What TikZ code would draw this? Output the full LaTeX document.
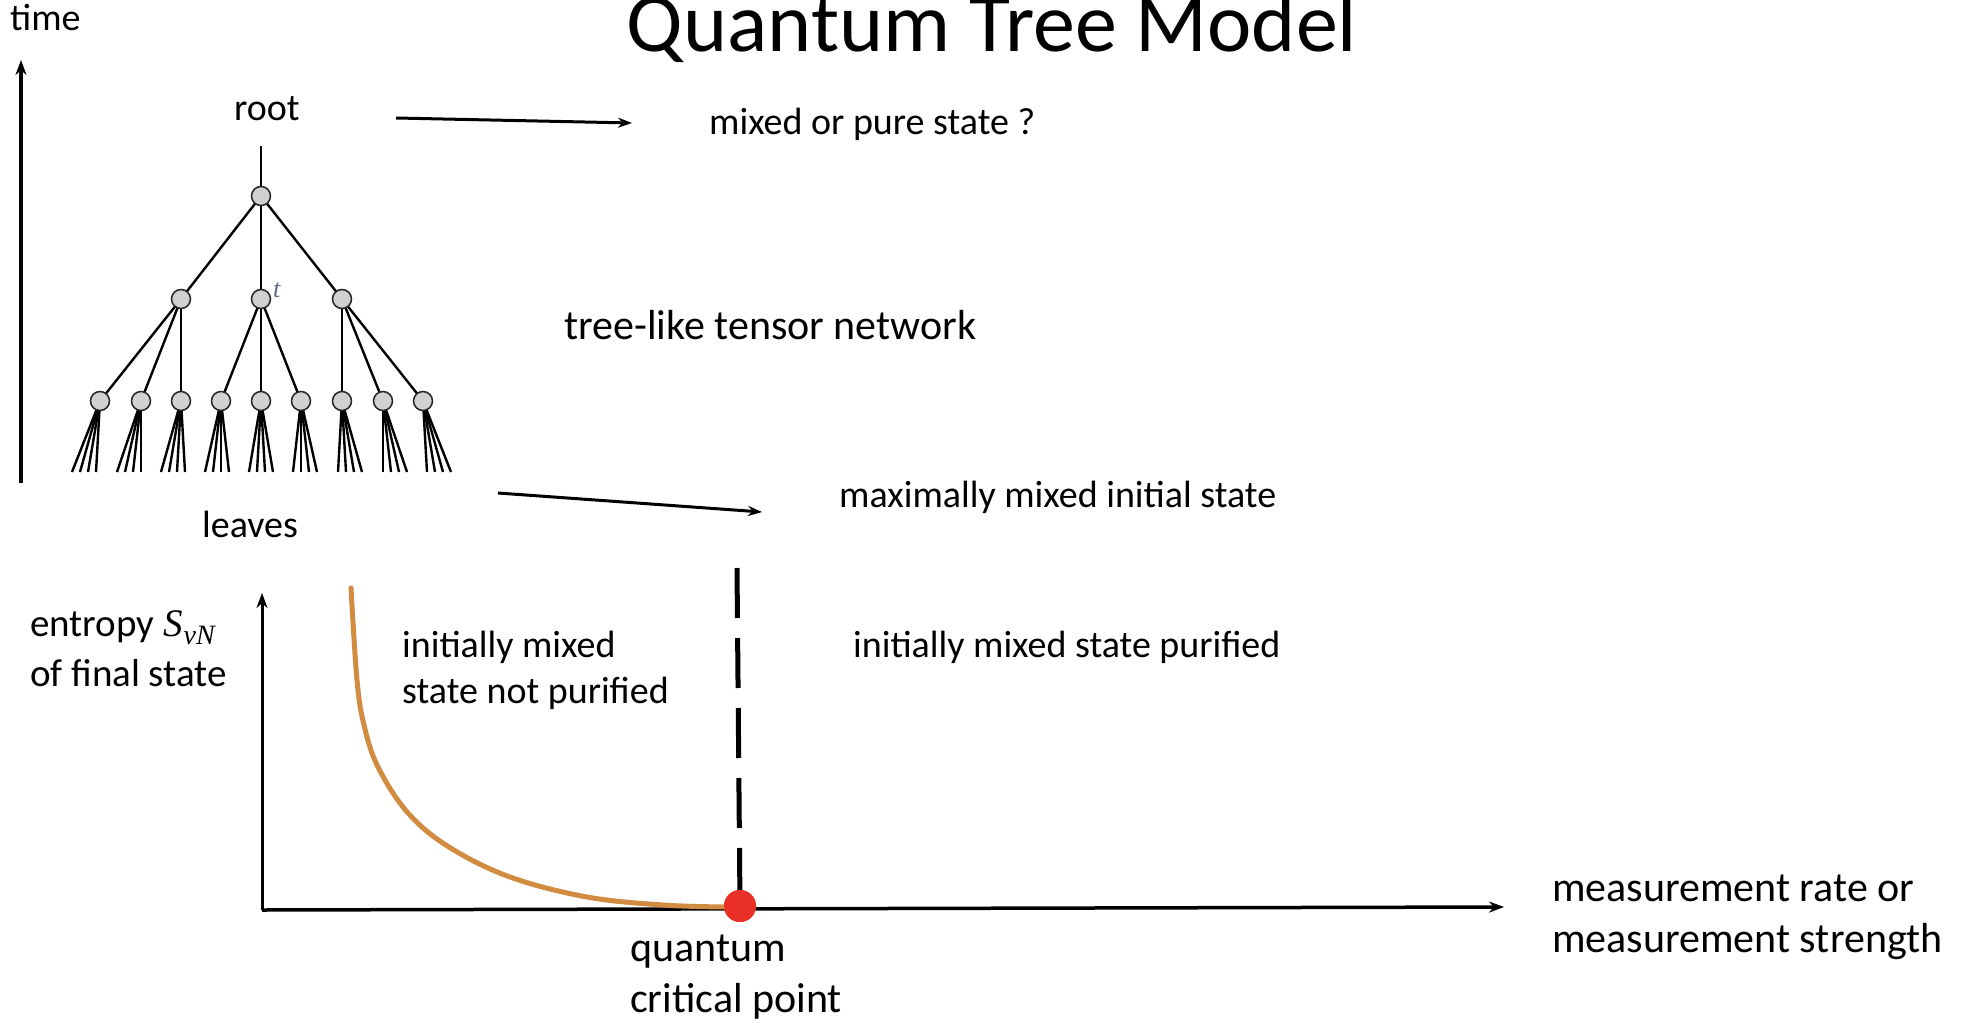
\documentclass[tikz,border=0pt]{standalone}
\usepackage{fontspec}
\setmainfont{Carlito}
\newfontfamily\mathlike{Liberation Serif}
\usetikzlibrary{arrows.meta}
\definecolor{curvecol}{RGB}{210,140,65}
\definecolor{dotcol}{RGB}{232,48,38}
\definecolor{tcol}{RGB}{95,105,135}
\begin{document}
\begin{tikzpicture}[x=1pt,y=-1pt,
  txt/.style={font=\fontsize{38}{46}\selectfont, inner sep=0pt, anchor=base west, align=left},
  bigtxt/.style={font=\fontsize{42}{51}\selectfont, inner sep=0pt, anchor=base west, align=left},
  tnode/.style={circle, draw=black!85, fill=black!18, line width=1.5pt, minimum size=19pt, inner sep=0pt},
  tedge/.style={line width=2.4pt},
  arr/.style={line width=3pt, -{Stealth[length=14pt,width=10pt]}},
  axisarr/.style={line width=3pt, -{Stealth[length=15pt,width=11pt]}}]
\useasboundingbox (0,0) rectangle (1969,1022);
\fill[white] (0,0) rectangle (1969,1022);

% title
\node[font=\fontsize{84}{90}\selectfont, inner sep=0pt, anchor=base] (title) at (992,52) {Quantum Tree Model};

% time axis
\node[txt] (time) at (10,31) {time};
\coordinate (tbot) at (21,483);
\coordinate (ttop) at (21,60);
\draw[line width=3.5pt, -{Stealth[length=15pt,width=11pt]}] (tbot) -- (ttop);

% tree
\node[txt] (rootlbl) at (234,121) {root};
\coordinate (stem) at (261,146);
\foreach \i/\x in {1/100,2/141,3/181,4/221,5/261,6/301,7/342,8/383,9/423}{
  \pgfmathsetmacro{\s}{(\i-5)*4}
  \foreach \o in {-12,-4,4,12}{
    \draw[tedge] (\x,401) -- (\x+\s+\o,472);
  }
}
\draw[tedge] (stem) -- (261,196);
\draw[tedge] (261,196) -- (181,299);
\draw[tedge] (261,196) -- (261,299);
\draw[tedge] (261,196) -- (342,299);
\draw[tedge] (181,299) -- (100,401);
\draw[tedge] (181,299) -- (141,401);
\draw[tedge] (181,299) -- (181,401);
\draw[tedge] (261,299) -- (221,401);
\draw[tedge] (261,299) -- (261,401);
\draw[tedge] (261,299) -- (301,401);
\draw[tedge] (342,299) -- (342,401);
\draw[tedge] (342,299) -- (383,401);
\draw[tedge] (342,299) -- (423,401);
\node[tnode] (r) at (261,196) {};
\node[tnode] (m1) at (181,299) {};
\node[tnode] (m2) at (261,299) {};
\node[tnode] (m3) at (342,299) {};
\foreach \i/\x in {1/100,2/141,3/181,4/221,5/261,6/301,7/342,8/383,9/423}{
  \node[tnode] (c\i) at (\x,401) {};
}
\node[inner sep=0pt, text=tcol, font=\mathlike\itshape\fontsize{26}{26}\selectfont, anchor=base west] (tlbl) at (273,297) {t};
\node[txt] (leaves) at (202,537) {leaves};

% right texts and arrows
\node[txt] (mixpure) at (709,135) {mixed or pure state ?};
\coordinate (a1s) at (396,118);
\coordinate (a1e) at (632,123);
\draw[arr] (a1s) -- (a1e);
\node[bigtxt] (tree) at (564,339) {tree-like tensor network};
\node[txt] (maxmix) at (839,507) {maximally mixed initial state};
\coordinate (a2s) at (498,493);
\coordinate (a2e) at (762,512);
\draw[arr] (a2s) -- (a2e);

% entropy plot
\node[font=\fontsize{39}{50}\selectfont, inner sep=0pt, anchor=base west, align=left] (ent) at (30,686) {entropy {\mathlike\itshape S\kern1pt\raisebox{-8pt}{\fontsize{28}{28}\selectfont vN}}\\of final state};
\coordinate (origin) at (262,910);
\coordinate (ytop) at (262,593);
\coordinate (xend) at (1504,907);
\draw[axisarr] (origin) -- (ytop);
\draw[axisarr, line width=3.5pt] (origin) -- (xend);
\node[txt] (notpur) at (402,703) {initially mixed\\state not purified};
\node[txt] (pur) at (853,657) {initially mixed state purified};
\coordinate (dtop) at (737,568);
\node[circle, fill=dotcol, minimum size=32pt, inner sep=0pt] (qcp) at (740,906) {};
\draw[line width=5pt, dash pattern=on 50pt off 20pt] (dtop) -- (qcp.center);
\draw[line width=5pt, curvecol, line cap=round] plot[smooth, tension=0.6] coordinates {(351,588) (357,680) (364,725) (378,767) (408,813) (449,847) (510,877) (587,897) (663,905) (726,907)};
\node[circle, fill=dotcol, minimum size=32pt, inner sep=0pt] at (qcp) {};
\node[bigtxt] (qcplbl) at (630,1012) {quantum\\critical point};
\node[bigtxt] (meas) at (1552,952) {measurement rate or\\measurement strength};
\end{tikzpicture}
\end{document}
